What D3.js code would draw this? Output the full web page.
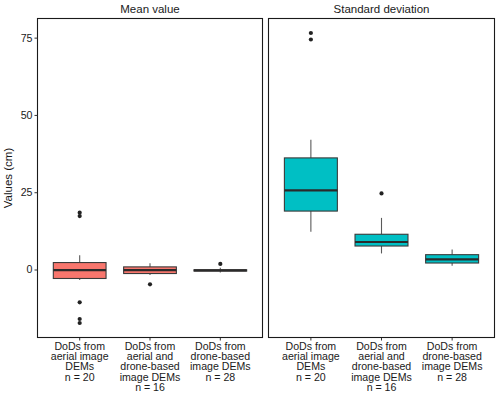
<!DOCTYPE html>
<html>
<head>
<meta charset="utf-8">
<script src="https://cdn.jsdelivr.net/npm/d3@7"></script>
<style>
  body { margin: 0; background: #fff; }
  text { font-family: "Liberation Sans", Arial, sans-serif; }
</style>
</head>
<body>
<svg id="chart" width="500" height="395"></svg>
<script>
// ---- data (cm) ----
const panels = ["Mean value", "Standard deviation"];
const categories = [
  "DoDs from|aerial image|DEMs|n = 20",
  "DoDs from|aerial and|drone-based|image DEMs|n = 16",
  "DoDs from|drone-based|image DEMs|n = 28"
];
const yTicks = [0, 25, 50, 75];
// box stats: [lowerWhisker, Q1, median, Q3, upperWhisker]
const meanStats = [
  [-3.4, -2.9, -0.2, 2.25, 4.6],
  [-1.8, -1.3, -0.2, 0.85, 2.0],
  [-1.0, -0.5, -0.3, -0.1, 0.6]
];
const meanOutliers = [
  [18.4, 17.3, -10.6, -16.0, -17.3],
  [-4.8],
  [1.8]
];
const sdStats = [
  [12.2, 18.9, 25.6, 36.1, 42.0],
  [5.2, 7.6, 8.9, 11.4, 16.7],
  [1.2, 2.1, 3.3, 4.8, 6.5]
];
const sdOutliers = [
  [76.5, 74.4],
  [24.6],
  []
];
const panelColors = ["#F8766D", "#00BFC4"];

// ---- layout ----
const svg = d3.select("#chart");
const plotTop = 18.5, plotBottom = 337.5;
const panelX = [[37.5, 262.5], [268.5, 494.5]];
const dataMin = -17.3, dataMax = 76.5;
const pad = (dataMax - dataMin) * 0.05;
const y = d3.scaleLinear().domain([dataMin - pad, dataMax + pad]).range([plotBottom, plotTop]);

const statsByPanel = [meanStats, sdStats];
const outByPanel = [meanOutliers, sdOutliers];

panels.forEach((title, p) => {
  const [x0, x1] = panelX[p];
  // discrete positions like ggplot: expand 0.6 each side
  const xc = d3.scalePoint().domain(categories).range([x0, x1]).padding(0.6);
  const bw = xc.step() * 0.75;
  const g = svg.append("g");

  // strip title
  g.append("text").attr("x", (x0 + x1) / 2).attr("y", 13)
    .attr("text-anchor", "middle").attr("font-size", 11.5).attr("fill", "#1a1a1a").text(title);

  categories.forEach((c, i) => {
    const s = statsByPanel[p][i];
    const cx = xc(c);
    // whiskers
    g.append("line").attr("x1", cx).attr("x2", cx).attr("y1", y(s[3])).attr("y2", y(s[4]))
      .attr("stroke", "#5a5a5a").attr("stroke-width", 1.1);
    g.append("line").attr("x1", cx).attr("x2", cx).attr("y1", y(s[1])).attr("y2", y(s[0]))
      .attr("stroke", "#5a5a5a").attr("stroke-width", 1.1);
    // box
    g.append("rect").attr("x", cx - bw / 2).attr("width", bw)
      .attr("y", y(s[3])).attr("height", Math.max(0.5, y(s[1]) - y(s[3])))
      .attr("fill", panelColors[p]).attr("stroke", "#3a3a3a").attr("stroke-width", 1.1);
    // median
    g.append("line").attr("x1", cx - bw / 2).attr("x2", cx + bw / 2)
      .attr("y1", y(s[2])).attr("y2", y(s[2]))
      .attr("stroke", "#2a2a2a").attr("stroke-width", 2.2);
    // outliers
    outByPanel[p][i].forEach(v => {
      g.append("circle").attr("cx", cx).attr("cy", y(v)).attr("r", 2.1).attr("fill", "#222");
    });
    // x tick
    g.append("line").attr("x1", cx).attr("x2", cx).attr("y1", plotBottom).attr("y2", plotBottom + 3)
      .attr("stroke", "#333").attr("stroke-width", 1);
    // x label
    const lines = c.split("|");
    const t = g.append("text").attr("text-anchor", "middle").attr("font-size", 10.6).attr("fill", "#1a1a1a");
    lines.forEach((ln, k) => {
      t.append("tspan").attr("x", cx).attr("y", 350 + k * 10.2).text(ln);
    });
  });

  // panel border
  g.append("rect").attr("x", x0).attr("y", plotTop).attr("width", x1 - x0).attr("height", plotBottom - plotTop)
    .attr("fill", "none").attr("stroke", "#1a1a1a").attr("stroke-width", 1.1);
});

// y axis (left panel only)
const yAxis = d3.axisLeft(y).tickValues(yTicks).tickSize(3).tickPadding(2);
const ya = svg.append("g").attr("transform", `translate(${panelX[0][0]},0)`).call(yAxis);
ya.select(".domain").remove();
ya.selectAll(".tick line").attr("stroke", "#333");
ya.selectAll(".tick text").attr("font-size", 10.6).attr("fill", "#1a1a1a")
  .attr("font-family", "'Liberation Sans', Arial, sans-serif");

// y title
svg.append("text").attr("transform", `translate(12,${(plotTop + plotBottom) / 2}) rotate(-90)`)
  .attr("text-anchor", "middle").attr("font-size", 11.5).attr("fill", "#1a1a1a").text("Values (cm)");
</script>
</body>
</html>
